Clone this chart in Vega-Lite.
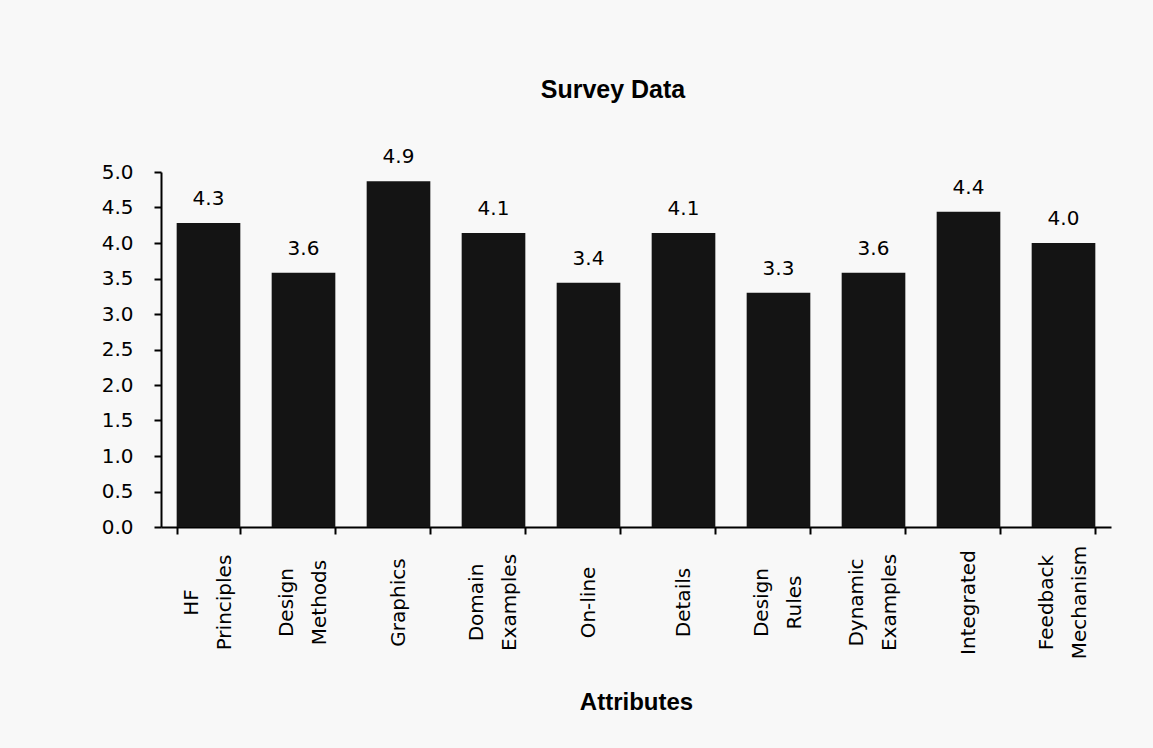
{
  "$schema": "https://vega.github.io/schema/vega-lite/v6.json",
  "autosize": {"type": "none"},
  "width": 950,
  "height": 355,
  "padding": {"left": 161, "top": 172, "right": 42, "bottom": 221},
  "background": "#f8f8f8",
  "config": {
    "view": {"stroke": null},
    "axisX": {
      "labelAngle": -90,
      "labelAlign": "center",
      "labelBaseline": "middle",
      "labelFont": "DejaVu Sans",
      "labelFontSize": 20,
      "labelColor": "#000000",
      "labelLineHeight": 33,
      "labelPadding": 68,
      "tickBand": "extent",
      "tickSize": 7,
      "tickWidth": 2,
      "tickColor": "#000000",
      "domainColor": "#000000",
      "domainWidth": 2,
      "grid": false
    }
  },
  "title": {
    "text": "Survey Data",
    "font": "Liberation Sans",
    "fontSize": 25,
    "fontWeight": "bold",
    "color": "#000000",
    "anchor": "middle",
    "dx": -23,
    "offset": 44
  },
  "data": {
    "values": [
      {"attribute": "HF Principles", "score": 4.28},
      {"attribute": "Design Methods", "score": 3.58},
      {"attribute": "Graphics", "score": 4.87},
      {"attribute": "Domain Examples", "score": 4.14},
      {"attribute": "On-line", "score": 3.44},
      {"attribute": "Details", "score": 4.14},
      {"attribute": "Design Rules", "score": 3.3},
      {"attribute": "Dynamic Examples", "score": 3.58},
      {"attribute": "Integrated", "score": 4.44},
      {"attribute": "Feedback Mechanism", "score": 4.0}
    ]
  },
  "encoding": {
    "y": {
      "field": "score",
      "type": "quantitative",
      "scale": {"domain": [0, 5], "nice": false},
      "axis": {
        "title": null,
        "values": [0, 0.5, 1, 1.5, 2, 2.5, 3, 3.5, 4, 4.5, 5],
        "format": ".1f",
        "labelFont": "DejaVu Sans",
        "labelFontSize": 20,
        "labelColor": "#000000",
        "labelPadding": 21,
        "tickSize": 7,
        "tickWidth": 2,
        "tickColor": "#000000",
        "domainColor": "#000000",
        "domainWidth": 2,
        "grid": false
      }
    }
  },
  "layer": [
    {
      "mark": {"type": "bar", "color": "#141414"},
      "encoding": {
        "x": {
          "field": "attribute",
          "type": "nominal",
          "sort": null,
          "scale": {"paddingInner": 0.33, "paddingOuter": 0.165},
          "axis": {
            "orient": "bottom",
            "title": "Attributes",
            "titleFont": "Liberation Sans",
            "titleFontSize": 24,
            "titleFontWeight": "bold",
            "titleColor": "#000000",
            "titleY": 182,
            "titleBaseline": "alphabetic",
            "labelExpr": "indexof(datum.label, ' ') >= 0 ? '' : datum.label"
          }
        }
      }
    },
    {
      "mark": {
        "type": "text",
        "font": "DejaVu Sans",
        "fontSize": 20,
        "color": "#000000",
        "baseline": "alphabetic",
        "dy": -18
      },
      "encoding": {
        "x": {
          "field": "attribute",
          "type": "nominal",
          "sort": null,
          "axis": {
            "orient": "bottom",
            "title": null,
            "domain": false,
            "tickOpacity": 0,
            "labelOffset": -17,
            "labelExpr": "indexof(datum.label, ' ') >= 0 ? split(datum.label, ' ') : ''"
          }
        },
        "text": {"field": "score", "type": "quantitative", "format": ".1f"}
      }
    }
  ],
  "resolve": {"axis": {"x": "independent"}}
}
